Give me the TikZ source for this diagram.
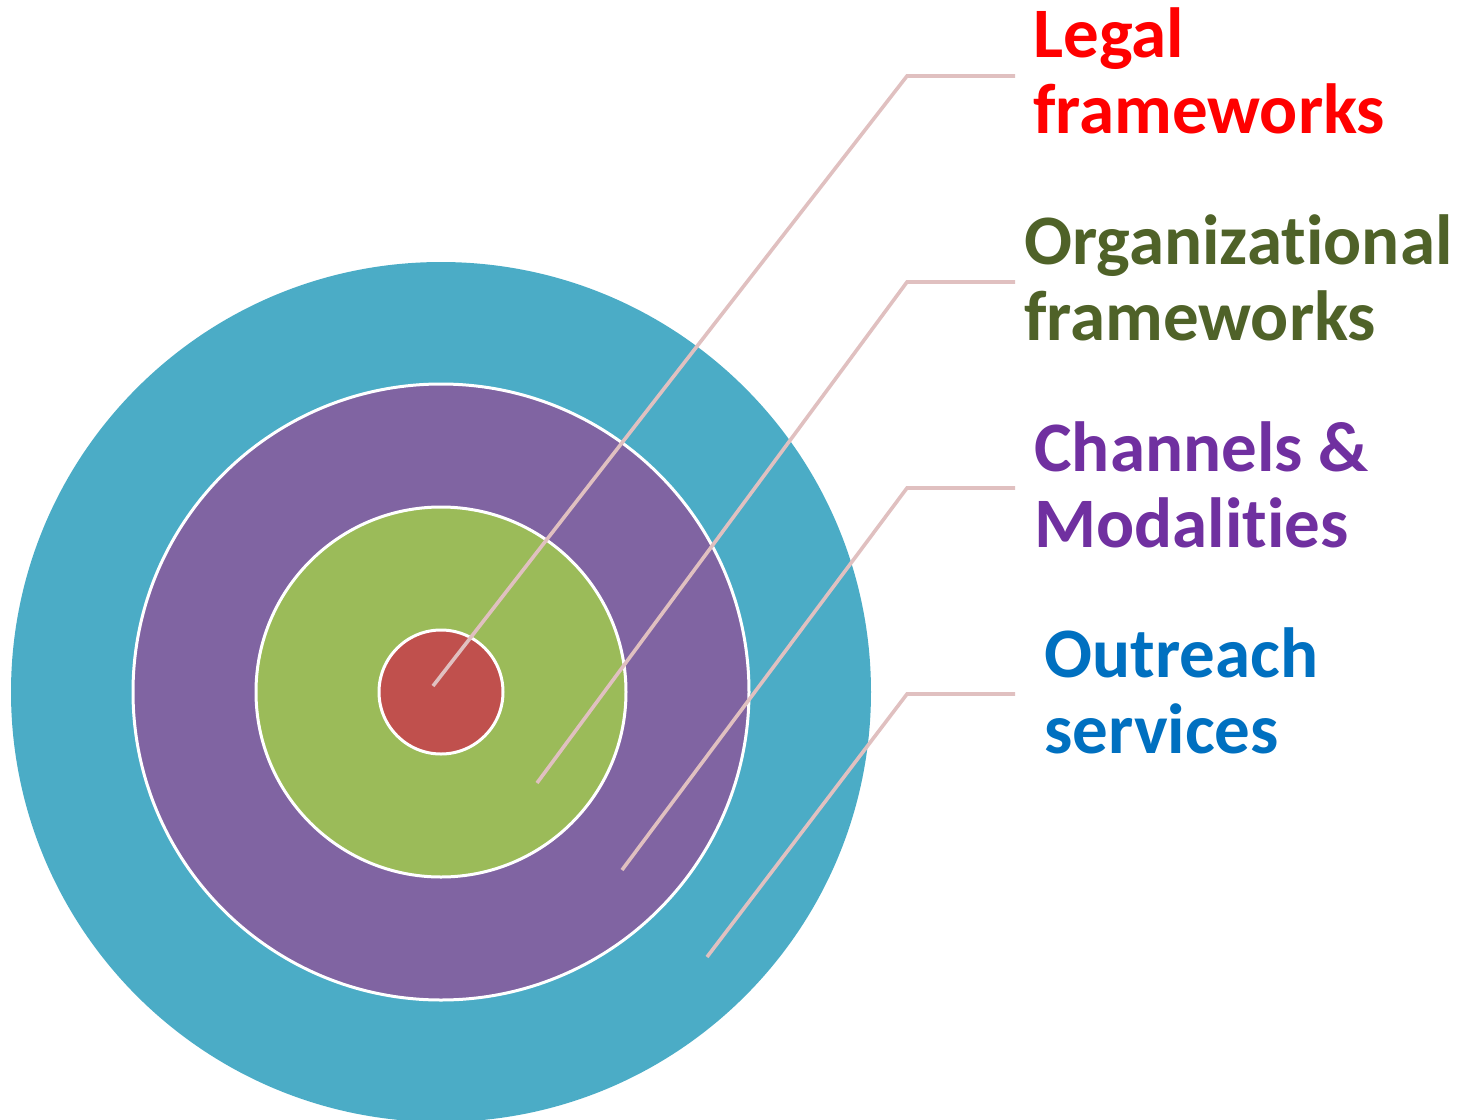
\documentclass[tikz,border=0pt]{standalone}
\usepackage{fontspec}
\setmainfont{Carlito}[RawFeature={-liga}]
\definecolor{ringouter}{HTML}{4BACC6}
\definecolor{ringpurple}{HTML}{8064A2}
\definecolor{ringgreen}{HTML}{9BBB59}
\definecolor{ringred}{HTML}{C0504D}
\definecolor{leader}{HTML}{E0C0C0}
\definecolor{txtred}{HTML}{FF0000}
\definecolor{txtgreen}{HTML}{4F6228}
\definecolor{txtpurple}{HTML}{7030A0}
\definecolor{txtblue}{HTML}{0070C0}
\begin{document}
\begin{tikzpicture}[x=0.5pt,y=-0.5pt,
  ring/.style={circle, inner sep=0pt, outer sep=0pt, draw=white, line width=1.5pt},
  leaderline/.style={draw=leader, line width=1.8pt},
  lbl/.style={anchor=base west, inner sep=0pt, align=left, font=\fontsize{35.5}{38}\selectfont\bfseries}]
\useasboundingbox (0,0) rectangle (1464,1120);
\node[ring, fill=ringouter, draw=none, minimum size=430pt] (outer) at (441,692) {};
\node[ring, fill=ringpurple, minimum size=308pt] (purple) at (441,692) {};
\node[ring, fill=ringgreen, minimum size=185pt] (green) at (441,692) {};
\node[ring, fill=ringred, minimum size=62pt] (red) at (441,692) {};
\node[lbl, text=txtred] (legal) at (1033,133) {Legal\\frameworks};
\node[lbl, text=txtgreen] (org) at (1024,340) {Organizational\\frameworks};
\node[lbl, text=txtpurple] (chan) at (1034,547) {Channels \&\\Modalities};
\node[lbl, text=txtblue] (out) at (1044,753) {Outreach\\services};
\coordinate (s1) at (433,686);
\coordinate (s2) at (537,783);
\coordinate (s3) at (622,870);
\coordinate (s4) at (707,957);
\coordinate (e1) at (1015,76);
\coordinate (e2) at (1015,282);
\coordinate (e3) at (1015,488);
\coordinate (e4) at (1015,694);
\draw[leaderline] (s1) -- (907,76) -- (e1);
\draw[leaderline] (s2) -- (907,282) -- (e2);
\draw[leaderline] (s3) -- (907,488) -- (e3);
\draw[leaderline] (s4) -- (907,694) -- (e4);
\end{tikzpicture}
\end{document}
